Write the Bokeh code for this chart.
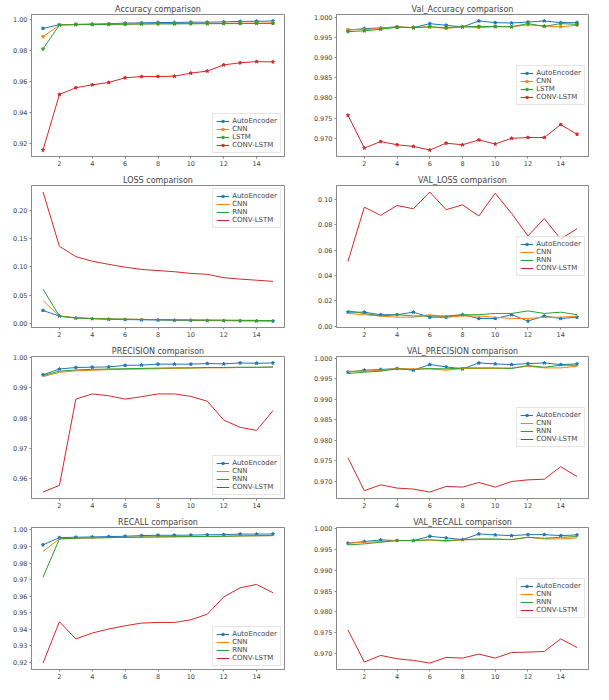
from bokeh.plotting import figure
from bokeh.layouts import gridplot
from bokeh.models import FixedTicker, NumeralTickFormatter, Range1d
from bokeh.embed import file_html
from bokeh.resources import INLINE

epochs = list(range(1, 16))
x_ticks = [2, 4, 6, 8, 10, 12, 14]
colors = ["#1f77b4", "#ff7f0e", "#2ca02c", "#d62728"]
names_lstm = ["AutoEncoder", "CNN", "LSTM", "CONV-LSTM"]
names_rnn = ["AutoEncoder", "CNN", "RNN", "CONV-LSTM"]

# Accuracy
acc_ae = [0.9940, 0.9964, 0.9966, 0.9968, 0.9970, 0.9974, 0.9976, 0.9978, 0.9978, 0.9980, 0.9980, 0.9982, 0.9985, 0.9986, 0.9988]
acc_cnn = [0.9887, 0.9962, 0.9965, 0.9966, 0.9967, 0.9968, 0.9970, 0.9971, 0.9971, 0.9972, 0.9972, 0.9973, 0.9974, 0.9974, 0.9975]
acc_lstm = [0.9808, 0.9962, 0.9964, 0.9965, 0.9966, 0.9967, 0.9968, 0.9969, 0.9969, 0.9970, 0.9970, 0.9971, 0.9971, 0.9972, 0.9972]
acc_conv = [0.9159, 0.9516, 0.9559, 0.9578, 0.9593, 0.9623, 0.9631, 0.9631, 0.9633, 0.9653, 0.9666, 0.9706, 0.9719, 0.9727, 0.9725]

# Val accuracy
vacc_ae = [0.99676, 0.99717, 0.99732, 0.99757, 0.99740, 0.99838, 0.99798, 0.99757, 0.99905, 0.99864, 0.99854, 0.99878, 0.99905, 0.99864, 0.99864]
vacc_cnn = [0.9969, 0.9969, 0.9972, 0.9976, 0.9974, 0.9976, 0.9972, 0.9976, 0.9974, 0.9976, 0.9976, 0.9981, 0.9978, 0.9976, 0.9980]
vacc_lstm = [0.9964, 0.9966, 0.9970, 0.9975, 0.9974, 0.9976, 0.9974, 0.9976, 0.9977, 0.9977, 0.9976, 0.9984, 0.9977, 0.9984, 0.9982]
vacc_conv = [0.9757, 0.9676, 0.9692, 0.9684, 0.9680, 0.9671, 0.9688, 0.9684, 0.9696, 0.9686, 0.9700, 0.9702, 0.9702, 0.9734, 0.9710]

# Loss
loss_ae = [0.0232, 0.0133, 0.0099, 0.0087, 0.0078, 0.0072, 0.0068, 0.0064, 0.0060, 0.0058, 0.0055, 0.0053, 0.0050, 0.0048, 0.0046]
loss_cnn = [0.0406, 0.0133, 0.0104, 0.0092, 0.0085, 0.0080, 0.0076, 0.0072, 0.0069, 0.0066, 0.0064, 0.0061, 0.0059, 0.0057, 0.0055]
loss_rnn = [0.0609, 0.0133, 0.0101, 0.0090, 0.0083, 0.0078, 0.0074, 0.0070, 0.0067, 0.0064, 0.0062, 0.0060, 0.0058, 0.0056, 0.0054]
loss_conv = [0.2320, 0.1362, 0.1180, 0.1100, 0.1045, 0.0995, 0.0955, 0.0935, 0.0915, 0.0885, 0.0870, 0.0810, 0.0785, 0.0765, 0.0745]

# Val loss
vloss_ae = [0.011, 0.011, 0.009, 0.009, 0.011, 0.007, 0.007, 0.009, 0.006, 0.006, 0.009, 0.004, 0.008, 0.006, 0.007]
vloss_cnn = [0.010, 0.009, 0.008, 0.007, 0.007, 0.009, 0.007, 0.008, 0.008, 0.007, 0.006, 0.006, 0.007, 0.007, 0.008]
vloss_rnn = [0.012, 0.010, 0.008, 0.009, 0.008, 0.008, 0.008, 0.009, 0.009, 0.010, 0.010, 0.012, 0.010, 0.011, 0.009]
vloss_conv = [0.051, 0.094, 0.0875, 0.0953, 0.0927, 0.106, 0.092, 0.0958, 0.087, 0.105, 0.089, 0.0713, 0.085, 0.0688, 0.077]

# Precision
prec_ae = [0.9943, 0.9962, 0.9967, 0.9968, 0.9969, 0.9974, 0.9975, 0.9978, 0.9978, 0.9978, 0.9980, 0.9979, 0.9982, 0.9981, 0.9982]
prec_cnn = [0.9937, 0.9951, 0.9956, 0.9958, 0.9960, 0.9961, 0.9962, 0.9963, 0.9964, 0.9965, 0.9966, 0.9966, 0.9967, 0.9967, 0.9968]
prec_rnn = [0.9940, 0.9955, 0.9959, 0.9961, 0.9962, 0.9963, 0.9964, 0.9965, 0.9966, 0.9966, 0.9967, 0.9967, 0.9968, 0.9968, 0.9969]
prec_conv = [0.9557, 0.9579, 0.9863, 0.9880, 0.9874, 0.9863, 0.9871, 0.9880, 0.9880, 0.9872, 0.9856, 0.9794, 0.9770, 0.9760, 0.9825]

# Val precision
vprec_ae = [0.99656, 0.99704, 0.99720, 0.99744, 0.99704, 0.99840, 0.99784, 0.99736, 0.99880, 0.99856, 0.99840, 0.99864, 0.99880, 0.99840, 0.99856]
vprec_cnn = [0.99680, 0.99680, 0.99704, 0.99744, 0.99736, 0.99736, 0.99704, 0.99744, 0.99744, 0.99744, 0.99760, 0.99800, 0.99760, 0.99760, 0.99800]
vprec_rnn = [0.99624, 0.99656, 0.99680, 0.99736, 0.99720, 0.99744, 0.99736, 0.99760, 0.99760, 0.99760, 0.99744, 0.99816, 0.99776, 0.99824, 0.99824]
vprec_conv = [0.97576, 0.96776, 0.96920, 0.96840, 0.96816, 0.96744, 0.96880, 0.96864, 0.96976, 0.96864, 0.97000, 0.97040, 0.97056, 0.97360, 0.97120]

# Recall
rec_ae = [0.9910, 0.9954, 0.9956, 0.9958, 0.9960, 0.9962, 0.9966, 0.9968, 0.9968, 0.9969, 0.9971, 0.9972, 0.9975, 0.9975, 0.9976]
rec_cnn = [0.9870, 0.9946, 0.9950, 0.9952, 0.9954, 0.9955, 0.9957, 0.9958, 0.9959, 0.9960, 0.9961, 0.9962, 0.9964, 0.9965, 0.9966]
rec_rnn = [0.9714, 0.9946, 0.9950, 0.9952, 0.9954, 0.9955, 0.9957, 0.9958, 0.9959, 0.9960, 0.9961, 0.9962, 0.9964, 0.9965, 0.9966]
rec_conv = [0.9194, 0.9444, 0.9340, 0.9376, 0.9400, 0.9420, 0.9436, 0.9440, 0.9440, 0.9456, 0.9490, 0.9594, 0.9650, 0.9670, 0.9620]

# Val recall
vrec_ae = [0.99656, 0.99696, 0.99736, 0.99720, 0.99720, 0.99824, 0.99784, 0.99744, 0.99880, 0.99856, 0.99840, 0.99864, 0.99864, 0.99840, 0.99856]
vrec_cnn = [0.99656, 0.99680, 0.99696, 0.99720, 0.99720, 0.99736, 0.99704, 0.99736, 0.99744, 0.99744, 0.99744, 0.99800, 0.99760, 0.99760, 0.99784]
vrec_rnn = [0.99616, 0.99640, 0.99680, 0.99720, 0.99720, 0.99736, 0.99720, 0.99744, 0.99760, 0.99760, 0.99744, 0.99800, 0.99776, 0.99800, 0.99816]
vrec_conv = [0.97560, 0.96784, 0.96944, 0.96864, 0.96824, 0.96760, 0.96896, 0.96880, 0.96976, 0.96880, 0.97016, 0.97024, 0.97040, 0.97344, 0.97136]

ticks_acc = [0.92, 0.94, 0.96, 0.98, 1.00]
ticks_val = [0.970, 0.975, 0.980, 0.985, 0.990, 0.995, 1.000]
ticks_loss = [0.00, 0.05, 0.10, 0.15, 0.20]
ticks_vloss = [0.00, 0.02, 0.04, 0.06, 0.08, 0.10]
ticks_prec = [0.96, 0.97, 0.98, 0.99, 1.00]
ticks_rec = [0.92, 0.93, 0.94, 0.95, 0.96, 0.97, 0.98, 0.99, 1.00]

FONT = "DejaVu Sans"
TXT = "#444444"
EDGE = "#8a8a8a"


def panel(title, names, series, yticks, fmt, loc, all_markers, col):
    lo = min(min(s) for s in series)
    hi = max(max(s) for s in series)
    pad = 0.05 * (hi - lo)
    xpad = 0.05 * (max(epochs) - min(epochs))
    if col == 0:
        bl, br, fw = 31, 20, 253
    else:
        bl, br, fw = 32, 13, 252
    p = figure(frame_width=fw, frame_height=142,
               min_border_left=bl, min_border_right=br,
               min_border_top=14, min_border_bottom=15,
               x_range=Range1d(min(epochs) - xpad, max(epochs) + xpad),
               y_range=Range1d(lo - pad, hi + pad),
               output_backend="svg", toolbar_location=None, title=title)
    p.title.align = "center"
    p.title.text_font = FONT
    p.title.text_font_size = "8px"
    p.title.text_font_style = "normal"
    p.title.text_color = TXT
    p.title.standoff = 2
    p.title.offset = 0
    for i, (nm, s) in enumerate(zip(names, series)):
        p.line(epochs, s, color=colors[i], line_width=1, legend_label=nm)
        if all_markers or i == 0:
            p.scatter(epochs, s, marker="star", size=3.5, color=colors[i],
                      legend_label=nm)
    p.xgrid.visible = False
    p.ygrid.visible = False
    p.outline_line_color = EDGE
    p.background_fill_color = "white"
    p.border_fill_color = "white"
    p.xaxis.ticker = FixedTicker(ticks=x_ticks)
    p.yaxis.ticker = FixedTicker(ticks=yticks)
    p.yaxis.formatter = NumeralTickFormatter(format=fmt)
    for ax in p.axis:
        ax.axis_line_color = EDGE
        ax.major_tick_line_color = EDGE
        ax.major_tick_out = 2
        ax.major_tick_in = 0
        ax.minor_tick_line_color = None
        ax.major_label_text_font = FONT
        ax.major_label_text_font_size = "6.5px"
        ax.major_label_text_color = TXT
        ax.major_label_standoff = 2
    lg = p.legend[0]
    lg.location = loc
    lg.label_text_font = FONT
    lg.label_text_font_size = "7px"
    lg.label_text_color = TXT
    lg.glyph_width = 13
    lg.glyph_height = 8
    lg.label_height = 8
    lg.label_standoff = 3
    lg.padding = 3
    lg.spacing = 0
    lg.margin = 3
    lg.border_line_color = "#cccccc"
    lg.background_fill_alpha = 0.8
    return p


p1 = panel("Accuracy comparison", names_lstm, [acc_ae, acc_cnn, acc_lstm, acc_conv], ticks_acc, "0.00", "bottom_right", True, 0)
p2 = panel("Val_Accuracy comparison", names_lstm, [vacc_ae, vacc_cnn, vacc_lstm, vacc_conv], ticks_val, "0.000", "right", True, 1)
p3 = panel("LOSS comparison", names_rnn, [loss_ae, loss_cnn, loss_rnn, loss_conv], ticks_loss, "0.00", "top_right", False, 0)
p4 = panel("VAL_LOSS comparison", names_rnn, [vloss_ae, vloss_cnn, vloss_rnn, vloss_conv], ticks_vloss, "0.00", "right", False, 1)
p5 = panel("PRECISION comparison", names_rnn, [prec_ae, prec_cnn, prec_rnn, prec_conv], ticks_prec, "0.00", "bottom_right", False, 0)
p6 = panel("VAL_PRECISION comparison", names_rnn, [vprec_ae, vprec_cnn, vprec_rnn, vprec_conv], ticks_val, "0.000", "right", False, 1)
p7 = panel("RECALL comparison", names_rnn, [rec_ae, rec_cnn, rec_rnn, rec_conv], ticks_rec, "0.00", "bottom_right", False, 0)
p8 = panel("VAL_RECALL comparison", names_rnn, [vrec_ae, vrec_cnn, vrec_rnn, vrec_conv], ticks_val, "0.000", "right", False, 1)

grid = gridplot([[p1, p2], [p3, p4], [p5, p6], [p7, p8]], toolbar_location=None)

open("out.html", "w").write(file_html(grid, INLINE))
